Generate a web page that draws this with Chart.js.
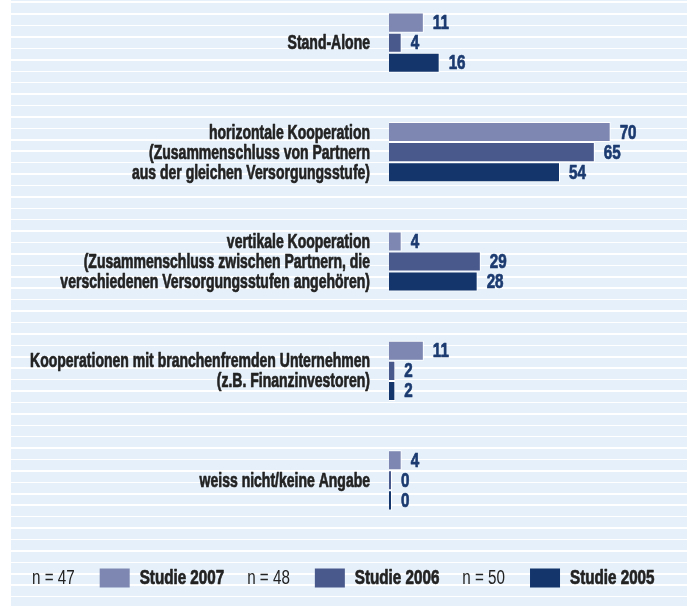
<!DOCTYPE html>
<html>
<head>
<meta charset="utf-8">
<script src="https://cdn.jsdelivr.net/npm/chart.js@4.4.1/dist/chart.umd.min.js"></script>
<style>
  body { margin: 0; background: #fff; }
  #wrap { position: relative; width: 687px; height: 606px; overflow: hidden; }
  #bg {
    position: absolute; left: 11px; top: 0; right: 0; bottom: 0;
    background: repeating-linear-gradient(to bottom, #fff 0px, #fff 1.5px, #e6f0fa 1.5px, #e6f0fa 11.42px);
    background-position: 0 2px;
  }
  #chart { position: absolute; left: 0; top: -12px; }
</style>
</head>
<body>
<div id="wrap">
  <div id="bg"></div>
  <canvas id="chart" width="687" height="618"></canvas>
</div>
<script>
const categories = [
  ["Stand-Alone"],
  ["horizontale Kooperation", "(Zusammenschluss von Partnern", "aus der gleichen Versorgungsstufe)"],
  ["vertikale Kooperation", "(Zusammenschluss zwischen Partnern, die", "verschiedenen Versorgungsstufen angehören)"],
  ["Kooperationen mit branchenfremden Unternehmen", "(z.B. Finanzinvestoren)"],
  ["weiss nicht/keine Angabe"]
];
const studie2007 = [11, 70, 4, 11, 4];
const studie2006 = [4, 65, 29, 2, 0];
const studie2005 = [16, 54, 28, 2, 0];
const seriesNames = ["Studie 2007", "Studie 2006", "Studie 2005"];
const sampleSizes = [47, 48, 50];
const colors = ["#7d87b1", "#4a598b", "#13356c"];

const fontFamily = '"Liberation Sans", Arial, sans-serif';

// no condensed face installed, so squeeze the text horizontally
// (and thicken it a bit when heavy is set)
function condensedText(ctx, text, x, y, sx, heavy) {
  ctx.save();
  ctx.translate(x, y);
  ctx.scale(sx, 1);
  if (heavy) {
    ctx.strokeStyle = ctx.fillStyle;
    ctx.lineWidth = 0.7;
    ctx.lineJoin = 'round';
    ctx.strokeText(text, 0, 0);
  }
  ctx.fillText(text, 0, 0);
  ctx.restore();
}

const textLayer = {
  id: 'textLayer',
  afterDatasetsDraw(chart) {
    const ctx = chart.ctx;
    const yScale = chart.scales.y;
    ctx.save();
    ctx.textBaseline = 'middle';

    // category labels
    ctx.font = 'bold 20px ' + fontFamily;
    ctx.fillStyle = '#222';
    ctx.textAlign = 'right';
    categories.forEach(function (lines, i) {
      const yc = yScale.getPixelForTick(i);
      lines.forEach(function (line, k) {
        condensedText(ctx, line, chart.chartArea.left - 19, yc + (k - (lines.length - 1) / 2) * 20 + 1, 0.7, true);
      });
    });

    // values
    ctx.fillStyle = '#1b3a6f';
    ctx.textAlign = 'left';
    chart.data.datasets.forEach(function (ds, i) {
      chart.getDatasetMeta(i).data.forEach(function (bar, j) {
        condensedText(ctx, String(ds.data[j]), bar.x + 9, bar.y + 1, 0.76, true);
      });
    });

    // legend
    const ly = 590;
    const sx = 0.76;
    let x = 32;
    seriesNames.forEach(function (name, i) {
      const nText = 'n = ' + sampleSizes[i];
      ctx.font = '20px ' + fontFamily;
      ctx.fillStyle = '#222';
      condensedText(ctx, nText, x, ly, sx, false);
      x += ctx.measureText(nText).width * sx + 25;
      ctx.fillStyle = colors[i];
      ctx.fillRect(x, ly - 9.5, 30, 19);
      x += 40;
      ctx.font = 'bold 20px ' + fontFamily;
      ctx.fillStyle = '#222';
      condensedText(ctx, name, x, ly, sx, true);
      x += ctx.measureText(name).width * sx + 23;
    });
    ctx.restore();
  }
};

const allSeries = [studie2007, studie2006, studie2005];

new Chart(document.getElementById('chart'), {
  type: 'bar',
  data: {
    labels: categories.map(function (c) { return c.join(' '); }),
    datasets: allSeries.map(function (d, i) {
      return {
        label: seriesNames[i],
        data: d,
        backgroundColor: colors[i],
        borderColor: '#ffffff',
        borderWidth: 1,
        minBarLength: 3,
        categoryPercentage: 0.55,
        barPercentage: 1.0
      };
    })
  },
  options: {
    indexAxis: 'y',
    responsive: false,
    animation: false,
    devicePixelRatio: 1,
    layout: { padding: { top: 0, bottom: 71, left: 0, right: 13 } },
    plugins: {
      legend: { display: false },
      tooltip: { enabled: false }
    },
    scales: {
      x: { display: false, min: 0, max: 90 },
      y: {
        grid: { display: false, drawTicks: false },
        border: { display: false },
        ticks: { display: false },
        afterFit: function (scale) { scale.width = 389; }
      }
    }
  },
  plugins: [textLayer]
});
</script>
</body>
</html>
